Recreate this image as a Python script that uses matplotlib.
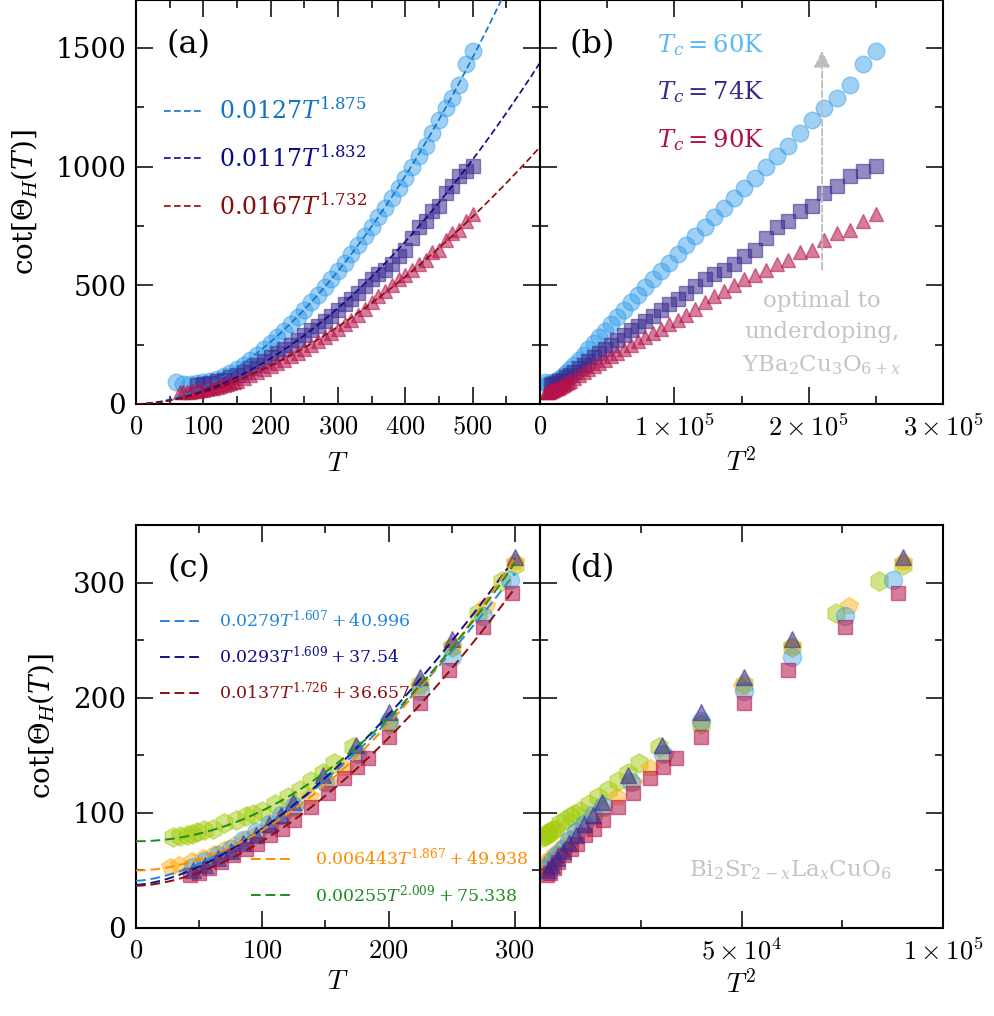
import numpy as np
import matplotlib.pyplot as plt
from matplotlib.ticker import MultipleLocator

plt.rcParams['font.family'] = 'DejaVu Serif'
plt.rcParams['mathtext.fontset'] = 'dejavuserif'

# ---------------- YBa2Cu3O6+x (top row) ----------------
T_tc60 = [60, 70, 80, 90, 100, 110, 120, 130, 140, 150, 160, 170, 180, 190, 200,
          210, 220, 230, 240, 250, 260, 270, 280, 290, 300, 310, 320, 330, 340, 350,
          360, 370, 380, 390, 400, 410, 420, 430, 440, 450, 460, 470, 480, 490, 500]
cot_tc60 = [94, 86, 84, 87, 92, 98, 106, 118, 132, 148, 166, 186, 208, 232, 256,
            282, 308, 336, 366, 396, 428, 460, 494, 526, 560, 594, 632, 668, 706, 744,
            786, 826, 868, 910, 952, 998, 1044, 1086, 1140, 1196, 1246, 1290, 1345, 1432, 1488]

T_tc74 = [90, 100, 110, 120, 130, 140, 150, 160, 170, 180, 190, 200, 210, 220, 230,
          240, 250, 260, 270, 280, 290, 300, 310, 320, 330, 340, 350, 360, 370, 380,
          390, 400, 410, 420, 430, 440, 450, 460, 470, 480, 490, 500]
cot_tc74 = [80, 83, 88, 95, 103, 113, 124, 136, 150, 164, 180, 196, 214, 232, 250,
            270, 290, 310, 330, 350, 372, 395, 420, 441, 468, 496, 528, 546, 566, 590,
            625, 650, 700, 745, 769, 812, 836, 888, 920, 959, 980, 1001]

T_tc90 = [65, 70, 75, 80, 85, 90, 95, 100, 105, 110, 115, 120, 125, 130, 135, 140, 145, 150,
          160, 170, 180, 190, 200, 210, 220, 230, 240, 250, 260, 270, 280, 290, 300,
          310, 320, 330, 340, 350, 360, 370, 380, 390, 400, 410, 420, 430, 440, 450,
          460, 470, 480, 490, 500]
cot_tc90 = [52, 50, 50, 51, 53, 55, 57, 60, 63, 66, 69, 73, 77, 81, 85, 89, 94, 99,
            110, 121, 133, 146, 159, 172, 186, 201, 216, 232, 248, 264, 281, 299, 318,
            337, 356, 376, 400, 428, 455, 478, 500, 525, 542, 563, 588, 608, 640, 648,
            689, 722, 731, 770, 801]

# fits a*T^b
fit_top_a = [0.0127, 0.0117, 0.0167]
fit_top_b = [1.875, 1.832, 1.732]
fit_top_labels = [r'$0.0127T^{1.875}$', r'$0.0117T^{1.832}$', r'$0.0167T^{1.732}$']

# ---------------- Bi2Sr2-xLaxCuO6 (bottom row) ----------------
T_circ = [45, 55, 65, 75, 85, 95, 105, 115, 125, 150, 175, 200, 225, 250, 275, 296]
cot_circ = [53, 58, 63, 69, 76, 83, 90, 98, 106, 127, 151, 180, 206, 235, 271, 302]

T_tri = [45, 55, 65, 75, 85, 95, 105, 115, 124, 148, 174, 200, 225, 250, 300]
cot_tri = [50, 55, 61, 67, 74, 81, 90, 98, 109, 133, 159, 188, 218, 251, 322]

T_sq = [43, 50, 58, 67, 77, 87, 96, 106, 116, 125, 139, 152, 165, 175, 184, 200, 225, 248, 275, 298]
cot_sq = [46, 48, 52, 57, 63, 69, 73, 81, 86, 94, 105, 117, 130, 140, 148, 166, 195, 224, 261, 291]

T_pent = [27, 34, 44, 53, 62, 70, 78, 87, 96, 106, 116, 125, 138, 152, 165, 176, 200, 224, 250, 277, 300]
cot_pent = [53, 55, 58, 61, 64, 68, 72, 77, 82, 89, 96, 103, 114, 126, 139, 150, 178, 209, 244, 280, 318]

T_hex = [29, 35, 40, 44, 48, 54, 61, 70, 79, 87, 93, 100, 110, 120, 130, 139, 148, 157, 172,
         200, 225, 250, 271, 290, 300]
cot_hex = [79, 80, 81, 82, 83, 85, 86, 91, 94, 97, 99, 102, 108, 114, 120, 128, 135, 143, 157,
           177, 212, 244, 274, 301, 315]

# fits a*T^b + c
fit_bot_a = [0.0279, 0.0293, 0.0137, 0.006443, 0.00255]
fit_bot_b = [1.607, 1.609, 1.726, 1.867, 2.009]
fit_bot_c = [40.996, 37.54, 36.657, 49.938, 75.338]
fit_bot_labels = [r'$0.0279T^{1.607}+40.996$', r'$0.0293T^{1.609}+37.54$',
                  r'$0.0137T^{1.726}+36.657$', r'$0.006443T^{1.867}+49.938$',
                  r'$0.00255T^{2.009}+75.338$']

# styles
c_circ, c_sq, c_tri = '#2D9BEB', '#3A2A8F', '#B5124A'
c_pent, c_hex = '#FFAA00', '#A5CC10'
fit_top_colors = ['#1273C9', '#0A0A8C', '#8B0A0A']
fit_bot_colors = ['#2288DD', '#101088', '#8B1010', '#FF8C00', '#1E8C1E']

fig = plt.figure(figsize=(9.95, 10.16), dpi=100)
W, H = 995.0, 1016.0
def add_ax(x0, x1, y0, y1):
    return fig.add_axes([x0 / W, 1 - y1 / H, (x1 - x0) / W, (y1 - y0) / H])

ax_a = add_ax(136, 540, 0.5, 404)
ax_b = add_ax(540, 943, 0.5, 404)
ax_c = add_ax(136, 540, 525, 928)
ax_d = add_ax(540, 943, 525, 928)

for ax in [ax_a, ax_b, ax_c, ax_d]:
    ax.tick_params(which='both', direction='in', top=True, right=True, width=1.1)
    ax.tick_params(which='major', length=12, labelsize=19, pad=7)
    ax.tick_params(axis='y', labelsize=20)
    ax.tick_params(which='minor', length=6)
    for s in ax.spines.values():
        s.set_linewidth(1.5)

def draw_top(ax, sq):
    f = (lambda t: np.asarray(t, float) ** 2) if sq else (lambda t: np.asarray(t, float))
    ax.plot(f(T_tc60), cot_tc60, 'o', ms=12, color=c_circ, alpha=0.45, mew=1, zorder=2)
    ax.plot(f(T_tc74), cot_tc74, 's', ms=9.5, color=c_sq, alpha=0.55, mew=1, zorder=2)
    ax.plot(f(T_tc90), cot_tc90, '^', ms=10, color=c_tri, alpha=0.55, mew=1, zorder=2)
    ax.set_ylim(0, 1700)
    ax.yaxis.set_major_locator(MultipleLocator(500))
    ax.yaxis.set_minor_locator(MultipleLocator(250))

def draw_bot(ax, sq):
    f = (lambda t: np.asarray(t, float) ** 2) if sq else (lambda t: np.asarray(t, float))
    ax.plot(f(T_hex), cot_hex, 'h', ms=14, color=c_hex, alpha=0.5, mew=1, zorder=2)
    ax.plot(f(T_pent), cot_pent, 'p', ms=13, color=c_pent, alpha=0.45, mew=1, zorder=2)
    ax.plot(f(T_circ), cot_circ, 'o', ms=13, color=c_circ, alpha=0.4, mew=1, zorder=2)
    ax.plot(f(T_sq), cot_sq, 's', ms=10, color=c_tri, alpha=0.55, mew=1, zorder=2)
    ax.plot(f(T_tri), cot_tri, '^', ms=11, color=c_sq, alpha=0.55, mew=1, zorder=2)
    ax.set_ylim(0, 350)
    ax.yaxis.set_major_locator(MultipleLocator(100))
    ax.yaxis.set_minor_locator(MultipleLocator(50))

# ---- (a)
draw_top(ax_a, False)
T_line = np.linspace(0, 600, 400)
lines_a = []
for a, b, col, lab in zip(fit_top_a, fit_top_b, fit_top_colors, fit_top_labels):
    ln, = ax_a.plot(T_line, a * T_line ** b, ls=(0, (4, 2)), lw=1.2, color=col, label=lab, zorder=3)
    lines_a.append(ln)
ax_a.set_xlim(0, 600)
ax_a.set_xticks([0, 100, 200, 300, 400, 500])
ax_a.set_xticklabels(['$0$', '$100$', '$200$', '$300$', '$400$', '$500$'], math_fontfamily='cm')
ax_a.xaxis.set_minor_locator(MultipleLocator(50))
ax_a.set_yticks([0, 500, 1000, 1500])
ax_a.set_yticklabels(['0', '500', '1000', '1500'])
ax_a.set_xlabel('$T$', fontsize=20, math_fontfamily='cm', labelpad=8)
ax_a.set_ylabel(r'$\cot[\Theta_H(T)]$', fontsize=20, labelpad=12)
ax_a.legend(handles=lines_a, loc='upper left', bbox_to_anchor=(0.07, 0.76), frameon=False,
            fontsize=17, handlelength=1.6, handletextpad=0.7, labelspacing=0.9,
            labelcolor='linecolor', borderaxespad=0, borderpad=0)
ax_a.text(0.13, 0.89, '(a)', transform=ax_a.transAxes, fontsize=23, ha='center', va='center')

# ---- (b)
draw_top(ax_b, True)
ax_b.set_xlim(0, 3e5)
ax_b.set_xticks([0, 1e5, 2e5, 3e5])
ax_b.set_xticklabels(['$0$', r'$1\times10^5$', r'$2\times10^5$', r'$3\times10^5$'], math_fontfamily='cm')
ax_b.xaxis.set_minor_locator(MultipleLocator(5e4))
ax_b.tick_params(labelleft=False)
ax_b.set_xlabel('$T^2$', fontsize=20, math_fontfamily='cm', labelpad=6)
ax_b.text(0.13, 0.89, '(b)', transform=ax_b.transAxes, fontsize=23, ha='center', va='center')
for yy, lab, col in zip([0.89, 0.772, 0.655], ['60', '74', '90'], ['#5BB8F5', '#3B2A8A', '#B0104A']):
    ax_b.text(0.29, yy, r'$T_c = %s$K' % lab, transform=ax_b.transAxes, fontsize=17.5,
              color=col, ha='left', va='center')
ax_b.annotate('', xy=(2.1e5, 1500), xytext=(2.1e5, 555),
              arrowprops=dict(arrowstyle='-|>', color='#BDBDBD', lw=1.3, ls='--', mutation_scale=25))
ax_b.text(0.70, 0.175, 'optimal to\nunderdoping,\nYBa$_2$Cu$_3$O$_{6+x}$', transform=ax_b.transAxes,
          fontsize=16.5, color='#C4C4C4', ha='center', va='center', multialignment='center',
          linespacing=1.55)

# ---- (c)
draw_bot(ax_c, False)
T_line2 = np.linspace(0, 300, 300)
lines_c = []
for a, b, c, col, lab in zip(fit_bot_a, fit_bot_b, fit_bot_c, fit_bot_colors, fit_bot_labels):
    ln, = ax_c.plot(T_line2, a * T_line2 ** b + c, ls=(0, (5, 2.5)), lw=1.4, color=col, label=lab, zorder=3)
    lines_c.append(ln)
ax_c.set_xlim(0, 320)
ax_c.set_xticks([0, 100, 200, 300])
ax_c.set_xticklabels(['$0$', '$100$', '$200$', '$300$'], math_fontfamily='cm')
ax_c.xaxis.set_minor_locator(MultipleLocator(50))
ax_c.set_yticks([0, 100, 200, 300])
ax_c.set_yticklabels(['0', '100', '200', '300'])
ax_c.set_xlabel('$T$', fontsize=20, math_fontfamily='cm', labelpad=4)
ax_c.set_ylabel(r'$\cot[\Theta_H(T)]$', fontsize=20, labelpad=12)
leg1 = ax_c.legend(handles=lines_c[:3], loc='upper left', bbox_to_anchor=(0.06, 0.79), frameon=False,
                   fontsize=12.5, handlelength=2.3, handletextpad=1.1, labelspacing=0.85,
                   labelcolor='linecolor', borderaxespad=0, borderpad=0)
ax_c.add_artist(leg1)
ax_c.legend(handles=lines_c[3:], loc='upper left', bbox_to_anchor=(0.285, 0.2), frameon=False,
            fontsize=12.5, handlelength=2.3, handletextpad=1.4, labelspacing=0.85,
            labelcolor='linecolor', borderaxespad=0, borderpad=0)
ax_c.text(0.13, 0.893, '(c)', transform=ax_c.transAxes, fontsize=23, ha='center', va='center')

# ---- (d)
draw_bot(ax_d, True)
ax_d.set_xlim(0, 1e5)
ax_d.set_xticks([0, 5e4, 1e5])
ax_d.set_xticklabels(['', r'$5\times10^4$', r'$1\times10^5$'], math_fontfamily='cm')
ax_d.xaxis.set_minor_locator(MultipleLocator(2.5e4))
ax_d.tick_params(labelleft=False)
ax_d.set_xlabel('$T^2$', fontsize=20, math_fontfamily='cm', labelpad=4)
ax_d.text(0.13, 0.893, '(d)', transform=ax_d.transAxes, fontsize=23, ha='center', va='center')
ax_d.text(0.62, 0.144, r'Bi$_2$Sr$_{2-x}$La$_x$CuO$_6$', transform=ax_d.transAxes,
          fontsize=16.5, color='#C4C4C4', ha='center', va='center')

fig.savefig('out.png', dpi=100)
